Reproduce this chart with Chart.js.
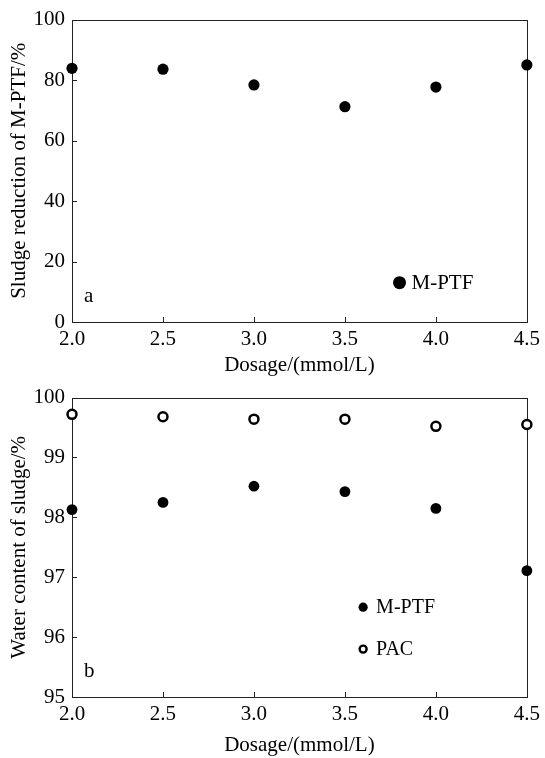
<!DOCTYPE html>
<html>
<head>
<meta charset="utf-8">
<script src="https://cdn.jsdelivr.net/npm/chart.js@4.4.1/dist/chart.umd.min.js"></script>
<style>
	html, body { margin: 0; padding: 0; background: #fff; }
	.panel { position: relative; width: 545px; }
	canvas { display: block; }
</style>
</head>
<body>
<div class="panel" style="height:378px"><canvas id="chartA" width="545" height="378"></canvas></div>
<div class="panel" style="height:380px"><canvas id="chartB" width="545" height="380"></canvas></div>
<script>
const dosage = [2.0, 2.5, 3.0, 3.5, 4.0, 4.5]
const reductionMPTF = [83.9, 83.6, 78.4, 71.2, 77.7, 85.0]
const waterMPTF = [98.13, 98.25, 98.52, 98.43, 98.15, 97.11]
const waterPAC = [99.72, 99.68, 99.64, 99.64, 99.52, 99.55]

const FONT = 'Liberation Serif, Times New Roman, serif'
const AXIS_COLOR = '#222'

function toPoints(xs, ys) {
	return xs.map((x, i) => ({ x: x, y: ys[i] }))
}

// frame round the plot area, inward ticks on left and bottom, panel letter and legend
const framePlugin = {
	id: 'frame',
	beforeDatasetsDraw(chart, args, opts) {
		const { ctx, chartArea: a, scales } = chart
		ctx.save()
		ctx.strokeStyle = AXIS_COLOR
		ctx.lineWidth = 1
		ctx.strokeRect(Math.round(a.left) + 0.5, Math.round(a.top) + 0.5, Math.round(a.right - a.left), Math.round(a.bottom - a.top))
		ctx.beginPath()
		scales.x.ticks.forEach(t => {
			const px = Math.round(scales.x.getPixelForValue(t.value)) + 0.5
			ctx.moveTo(px, a.bottom)
			ctx.lineTo(px, a.bottom - 5)
		})
		scales.y.ticks.forEach(t => {
			const py = Math.round(scales.y.getPixelForValue(t.value)) + 0.5
			ctx.moveTo(a.left, py)
			ctx.lineTo(a.left + 5, py)
		})
		ctx.stroke()
		ctx.restore()
	},
	afterDatasetsDraw(chart, args, opts) {
		const { ctx, chartArea: a, scales } = chart
		ctx.save()
		ctx.fillStyle = '#000'
		ctx.font = '21px ' + FONT
		ctx.textBaseline = 'middle'
		ctx.textAlign = 'left'
		ctx.fillText(opts.letter, a.left + 12, a.bottom - 26)
		opts.legend.forEach(item => {
			const px = scales.x.getPixelForValue(item.x)
			const py = scales.y.getPixelForValue(item.y)
			ctx.beginPath()
			ctx.arc(px, py, item.r, 0, Math.PI * 2)
			if (item.open) {
				ctx.fillStyle = '#fff'
				ctx.fill()
				ctx.lineWidth = 2.4
				ctx.strokeStyle = '#000'
				ctx.stroke()
			} else {
				ctx.fillStyle = '#000'
				ctx.fill()
			}
			ctx.fillStyle = '#000'
			ctx.font = item.size + 'px ' + FONT
			ctx.fillText(item.label, px + item.gap, py + 1)
		})
		ctx.restore()
	},
}

function makeOptions(yMin, yMax, yStep, yTitle, pad, xHeight, letter, legend) {
	return {
		responsive: false,
		animation: false,
		layout: { padding: pad },
		scales: {
			x: {
				type: 'linear',
				min: 2.0,
				max: 4.5,
				afterFit: s => { s.height = xHeight },
				afterBuildTicks: s => { s.ticks = dosage.map(v => ({ value: v })) },
				grid: { display: false, drawTicks: false },
				border: { display: false },
				ticks: {
					color: '#000',
					padding: 5,
					font: { family: FONT, size: 21 },
					callback: v => Number(v).toFixed(1),
				},
				title: {
					display: true,
					text: 'Dosage/(mmol/L)',
					color: '#000',
					font: { family: FONT, size: 21, lineHeight: 1 },
					padding: { top: 0, bottom: 2 },
				},
			},
			y: {
				min: yMin,
				max: yMax,
				afterFit: s => { s.width = 72 },
				grid: { display: false, drawTicks: false },
				border: { display: false },
				ticks: {
					stepSize: yStep,
					color: '#000',
					padding: 7,
					font: { family: FONT, size: 21 },
				},
				title: {
					display: true,
					text: yTitle,
					color: '#000',
					font: { family: FONT, size: 21, lineHeight: 1 },
					padding: { top: 9, bottom: 0 },
				},
			},
		},
		plugins: {
			legend: { display: false },
			tooltip: { enabled: false },
			frame: { letter: letter, legend: legend },
		},
	}
}

new Chart(document.getElementById('chartA').getContext('2d'), {
	type: 'scatter',
	data: {
		datasets: [
			{
				label: 'M-PTF',
				data: toPoints(dosage, reductionMPTF),
				pointRadius: 5.6,
				pointBorderWidth: 0,
				backgroundColor: '#000',
				borderColor: '#000',
				clip: false,
			},
		],
	},
	options: makeOptions(0, 100, 20, 'Sludge reduction of M-PTF/%',
		{ top: 18, right: 17, left: 0, bottom: 0 }, 56, 'a',
		[{ x: 3.8, y: 13, r: 6.5, open: false, label: 'M-PTF', gap: 12, size: 21 }]),
	plugins: [framePlugin],
})

new Chart(document.getElementById('chartB').getContext('2d'), {
	type: 'scatter',
	data: {
		datasets: [
			{
				label: 'M-PTF',
				data: toPoints(dosage, waterMPTF),
				pointRadius: 5.4,
				pointBorderWidth: 0,
				backgroundColor: '#000',
				borderColor: '#000',
				clip: false,
			},
			{
				label: 'PAC',
				data: toPoints(dosage, waterPAC),
				pointRadius: 4.5,
				pointBorderWidth: 2.5,
				backgroundColor: '#fff',
				borderColor: '#000',
				clip: false,
			},
		],
	},
	options: makeOptions(95, 100, 1, 'Water content of sludge/%',
		{ top: 17, right: 17, left: 0, bottom: 0 }, 61, 'b',
		[
			{ x: 3.6, y: 96.5, r: 4.6, open: false, label: 'M-PTF', gap: 13, size: 20 },
			{ x: 3.6, y: 95.8, r: 3.5, open: true, label: 'PAC', gap: 13, size: 20 },
		]),
	plugins: [framePlugin],
})
</script>
</body>
</html>
